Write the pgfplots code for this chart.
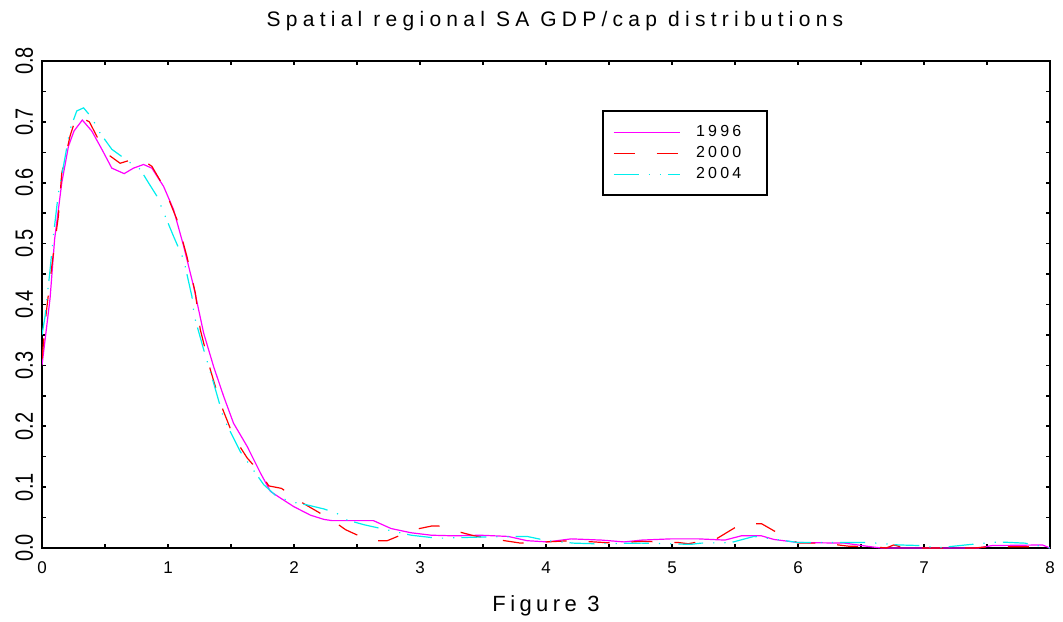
\documentclass[border=0pt]{standalone}
\usepackage{fontspec}
\setmainfont{Liberation Sans}[LetterSpace=20]
\newfontfamily\plainfont{Liberation Sans}
\newfontfamily\titlefont{Liberation Sans}[LetterSpace=25]
\usepackage{pgfplots}
\pgfplotsset{compat=1.18}
\definecolor{cmag}{RGB}{255,0,255}
\definecolor{cred}{RGB}{255,0,0}
\definecolor{ccyan}{RGB}{0,238,238}
\begin{document}
\begin{tikzpicture}
\begin{axis}[
  at={(0,0)}, anchor=south west,
  scale only axis, width=504pt, height=243.5pt,
  xmin=0, xmax=8, ymin=0, ymax=0.8,
  xtick={0,1,2,3,4,5,6,7,8},
  xticklabels={0,1,2,3,4,5,6,7,8},
  minor x tick num=1,
  ytick={0,0.1,0.2,0.3,0.4,0.5,0.6,0.7,0.8},
  yticklabels={0.0,0.1,0.2,0.3,0.4,0.5,0.6,0.7,0.8},
  minor y tick num=1,
  tick align=inside,
  major tick length=2.2pt, minor tick length=2.2pt,
  tick style={black, line width=0.8pt},
  axis line style={line width=1.3pt},
  xticklabel style={font=\fontsize{8.5}{10}\selectfont, anchor=base, yshift=-12.6pt},
  yticklabel style={font=\plainfont\fontsize{12.5}{13}\selectfont, rotate=90, xscale=0.8, anchor=base},
  yticklabel shift=4.5pt,
  title={Spatial regional SA GDP/cap distributions},
  title style={at={(0.5,1)}, anchor=base, yshift=11.5pt, xshift=4.5pt, font=\titlefont\fontsize{10.5}{12}\selectfont},
  xlabel={Figure 3},
  xlabel style={at={(0.5,0)}, anchor=base, yshift=-31.5pt, font=\fontsize{11}{12}\selectfont},
  legend style={at={(0.5556,0.899)}, anchor=north west, draw=black, line width=0.9pt,
    font=\fontsize{8}{9}\selectfont, inner xsep=5pt, inner ysep=5pt, row sep=-0.6pt, column sep=6pt},
  legend cell align=left,
  legend image code/.code={\draw[#1] (0pt,0pt) -- (33pt,0pt);},
]
\addplot[cmag, line width=0.6pt] coordinates {
(0,0.30) (0.064,0.41) (0.10,0.507) (0.157,0.60) (0.21,0.66) (0.254,0.685) (0.32,0.703)
(0.395,0.685) (0.475,0.655) (0.554,0.624) (0.652,0.615) (0.726,0.624) (0.806,0.63)
(0.872,0.624) (0.965,0.594) (1.044,0.556) (1.124,0.496) (1.203,0.43) (1.283,0.353)
(1.362,0.298) (1.442,0.249) (1.52,0.205) (1.628,0.167) (1.734,0.123) (1.813,0.093)
(1.893,0.082) (1.998,0.068) (2.13,0.054) (2.237,0.047) (2.3,0.045) (2.63,0.045)
(2.77,0.032) (2.93,0.025) (3.09,0.021) (3.27,0.02) (3.48,0.021) (3.70,0.019) (3.85,0.012)
(4.01,0.01) (4.2,0.015) (4.44,0.013) (4.62,0.010) (4.76,0.013) (4.99,0.015) (5.21,0.015)
(5.42,0.013) (5.55,0.020) (5.71,0.020) (5.81,0.014) (6.0,0.009) (6.37,0.008) (6.58,0.002)
(6.66,0) (7.43,0) (7.54,0.004) (7.94,0.005) (8,0)
};
\addlegendentry{1996\hspace*{6pt}}
\addplot[cred, line width=0.6pt, dash pattern=on 10.5pt off 11pt] coordinates {
(0,0.31) (0.03,0.38) (0.064,0.44) (0.098,0.496) (0.13,0.545) (0.157,0.616) (0.223,0.677)
(0.276,0.711) (0.376,0.70) (0.461,0.666) (0.54,0.644) (0.62,0.632) (0.713,0.638) (0.793,0.638)
(0.872,0.627) (0.965,0.594) (1.07,0.54) (1.15,0.479) (1.217,0.419) (1.256,0.359)
(1.336,0.293) (1.415,0.238) (1.52,0.183) (1.628,0.148) (1.734,0.123) (1.80,0.102)
(1.9,0.098) (2.06,0.075) (2.3,0.046) (2.41,0.03) (2.6,0.012) (2.74,0.012) (2.95,0.03)
(3.09,0.036) (3.15,0.036) (3.3,0.027) (3.43,0.02) (3.64,0.013) (3.80,0.008) (4.0,0.01)
(4.2,0.012) (4.38,0.01) (4.54,0.008) (4.76,0.011) (5.05,0.009) (5.13,0.007) (5.36,0.016)
(5.52,0.036) (5.6,0.04) (5.71,0.04) (5.87,0.021) (6.0,0.008) (6.2,0.008) (6.4,0.003)
(6.6,0.002) (6.7,0) (6.76,0.005) (6.85,0) (7.4,0) (7.5,0.002) (7.9,0.002) (8,0)
};
\addlegendentry{2000\hspace*{6pt}}
\addplot[ccyan, line width=0.6pt, dash pattern=on 12.5pt off 5pt on 0.6pt off 5pt on 0.6pt off 3.5pt] coordinates {
(0,0.35) (0.024,0.38) (0.064,0.457) (0.09,0.512) (0.13,0.583) (0.17,0.627) (0.223,0.688)
(0.276,0.718) (0.33,0.723) (0.395,0.707) (0.46,0.682) (0.554,0.655) (0.70,0.633)
(0.78,0.622) (0.845,0.6) (0.912,0.578) (0.978,0.545) (1.044,0.512) (1.124,0.474)
(1.19,0.413) (1.21,0.38) (1.283,0.326) (1.362,0.271) (1.442,0.213) (1.575,0.158)
(1.76,0.104) (1.866,0.084) (2.0,0.075) (2.10,0.071) (2.24,0.064) (2.34,0.057) (2.42,0.046)
(2.56,0.038) (2.8,0.027) (2.93,0.021) (3.14,0.016) (3.48,0.018) (3.85,0.019) (4.01,0.012)
(4.22,0.008) (4.38,0.007) (4.76,0.008) (5.15,0.006) (5.23,0.008) (5.47,0.009) (5.65,0.019)
(5.83,0.014) (6.0,0.009) (6.27,0.009) (6.56,0.009) (6.8,0.005) (6.98,0.004) (7.1,0)
(7.33,0.005) (7.59,0.01) (7.80,0.008) (8,0)
};
\addlegendentry{2004\hspace*{6pt}}
\end{axis}
\pgfresetboundingbox
\path (-21pt,-36.5pt) rectangle (510.5pt,274pt);
\end{tikzpicture}
\end{document}
